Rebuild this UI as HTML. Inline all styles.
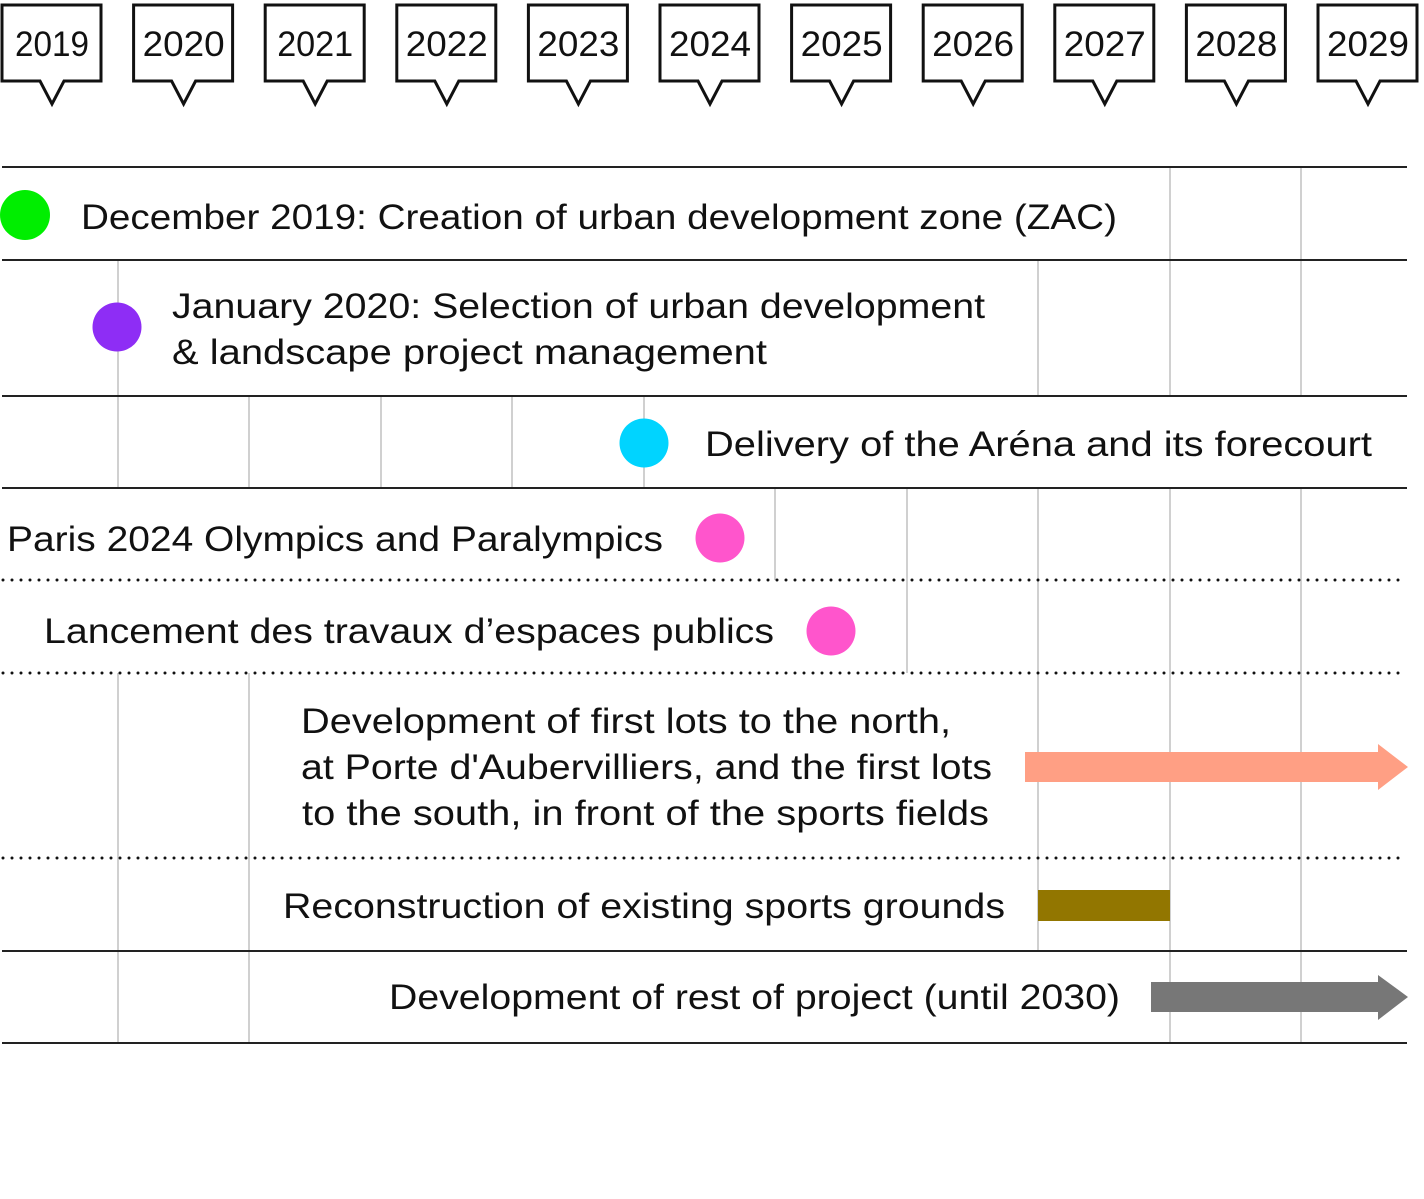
<!DOCTYPE html>
<html><head><meta charset="utf-8"><style>
html,body{margin:0;padding:0;background:#fff;}
svg{display:block;}
text{font-family:"Liberation Sans",sans-serif;font-size:35px;fill:#111;}
</style></head><body>
<svg width="1424" height="1199" viewBox="0 0 1424 1199" xmlns="http://www.w3.org/2000/svg">
<g fill="#fff" stroke="#111" stroke-width="3" stroke-linejoin="miter">
<path d="M2 5H101V81H64L52 104L40 81H2Z"/>
<path d="M133.6 5H232.6V81H195.6L183.6 104L171.6 81H133.6Z"/>
<path d="M265.2 5H364.2V81H327.2L315.2 104L303.2 81H265.2Z"/>
<path d="M396.8 5H495.8V81H458.8L446.8 104L434.8 81H396.8Z"/>
<path d="M528.4 5H627.4V81H590.4L578.4 104L566.4 81H528.4Z"/>
<path d="M660 5H759V81H722L710 104L698 81H660Z"/>
<path d="M791.6 5H890.6V81H853.6L841.6 104L829.6 81H791.6Z"/>
<path d="M923.2 5H1022.2V81H985.2L973.2 104L961.2 81H923.2Z"/>
<path d="M1054.8 5H1153.8V81H1116.8L1104.8 104L1092.8 81H1054.8Z"/>
<path d="M1186.4 5H1285.4V81H1248.4L1236.4 104L1224.4 81H1186.4Z"/>
<path d="M1318 5H1417V81H1380L1368 104L1356 81H1318Z"/>
</g>
<g text-anchor="middle" lengthAdjust="spacingAndGlyphs">
<text x="52" y="56" textLength="74" lengthAdjust="spacingAndGlyphs">2019</text>
<text x="183.6" y="56" textLength="82" lengthAdjust="spacingAndGlyphs">2020</text>
<text x="315.2" y="56" textLength="76" lengthAdjust="spacingAndGlyphs">2021</text>
<text x="446.8" y="56" textLength="82" lengthAdjust="spacingAndGlyphs">2022</text>
<text x="578.4" y="56" textLength="82" lengthAdjust="spacingAndGlyphs">2023</text>
<text x="710" y="56" textLength="82" lengthAdjust="spacingAndGlyphs">2024</text>
<text x="841.6" y="56" textLength="82" lengthAdjust="spacingAndGlyphs">2025</text>
<text x="973.2" y="56" textLength="82" lengthAdjust="spacingAndGlyphs">2026</text>
<text x="1104.8" y="56" textLength="82" lengthAdjust="spacingAndGlyphs">2027</text>
<text x="1236.4" y="56" textLength="82" lengthAdjust="spacingAndGlyphs">2028</text>
<text x="1368" y="56" textLength="82" lengthAdjust="spacingAndGlyphs">2029</text>
</g>
<g stroke="#d0d0d0" stroke-width="2">
<path d="M1170 167V260M1301 167V260"/>
<path d="M118 260V396M1038 260V396M1170 260V396M1301 260V396"/>
<path d="M118 396V488M249 396V488M381 396V488M512 396V488M644 396V488"/>
<path d="M775 488V580M907 488V580M1038 488V580M1170 488V580M1301 488V580"/>
<path d="M907 580V673M1038 580V673M1170 580V673M1301 580V673"/>
<path d="M118 673V858M249 673V858M1038 673V858M1170 673V858M1301 673V858"/>
<path d="M118 858V951M249 858V951M1038 858V951M1170 858V951M1301 858V951"/>
<path d="M118 951V1043M249 951V1043M1170 951V1043M1301 951V1043"/>
</g>
<g stroke="#222" stroke-width="2">
<path d="M2 167H1407M2 260H1407M2 396H1407M2 488H1407M2 951H1407M2 1043H1407"/>
</g>
<g stroke="#111" stroke-width="3" stroke-linecap="round" stroke-dasharray="0 9">
<path d="M3 580H1407M3 673H1407M3 858H1407"/>
</g>
<circle cx="25" cy="215" r="25" fill="#00ee00"/>
<circle cx="117" cy="327" r="24.5" fill="#8e2df5"/>
<circle cx="644" cy="443" r="24.5" fill="#00d4ff"/>
<circle cx="720" cy="538" r="24.5" fill="#ff55cc"/>
<circle cx="831" cy="631" r="24.5" fill="#ff55cc"/>
<path d="M1025 752H1378V744L1408 767L1378 790V782H1025Z" fill="#ff9f84"/>
<rect x="1038" y="890" width="132" height="31" fill="#927600"/>
<path d="M1151 982H1378V975L1408 997L1378 1020V1012H1151Z" fill="#777"/>
<text x="81" y="229" textLength="1036" lengthAdjust="spacingAndGlyphs">December 2019: Creation of urban development zone (ZAC)</text>
<text x="172" y="318" textLength="813" lengthAdjust="spacingAndGlyphs">January 2020: Selection of urban development</text>
<text x="172" y="364" textLength="595" lengthAdjust="spacingAndGlyphs">&amp; landscape project management</text>
<text x="705" y="456" textLength="667" lengthAdjust="spacingAndGlyphs">Delivery of the Aréna and its forecourt</text>
<text x="7" y="551" textLength="656" lengthAdjust="spacingAndGlyphs">Paris 2024 Olympics and Paralympics</text>
<text x="44" y="643" textLength="730" lengthAdjust="spacingAndGlyphs">Lancement des travaux d’espaces publics</text>
<text x="301" y="733" textLength="650" lengthAdjust="spacingAndGlyphs">Development of first lots to the north,</text>
<text x="301" y="779" textLength="691" lengthAdjust="spacingAndGlyphs">at Porte d'Aubervilliers, and the first lots</text>
<text x="302" y="825" textLength="687" lengthAdjust="spacingAndGlyphs">to the south, in front of the sports fields</text>
<text x="283" y="918" textLength="722" lengthAdjust="spacingAndGlyphs">Reconstruction of existing sports grounds</text>
<text x="389" y="1009" textLength="731" lengthAdjust="spacingAndGlyphs">Development of rest of project (until 2030)</text>
</svg>
</body></html>
